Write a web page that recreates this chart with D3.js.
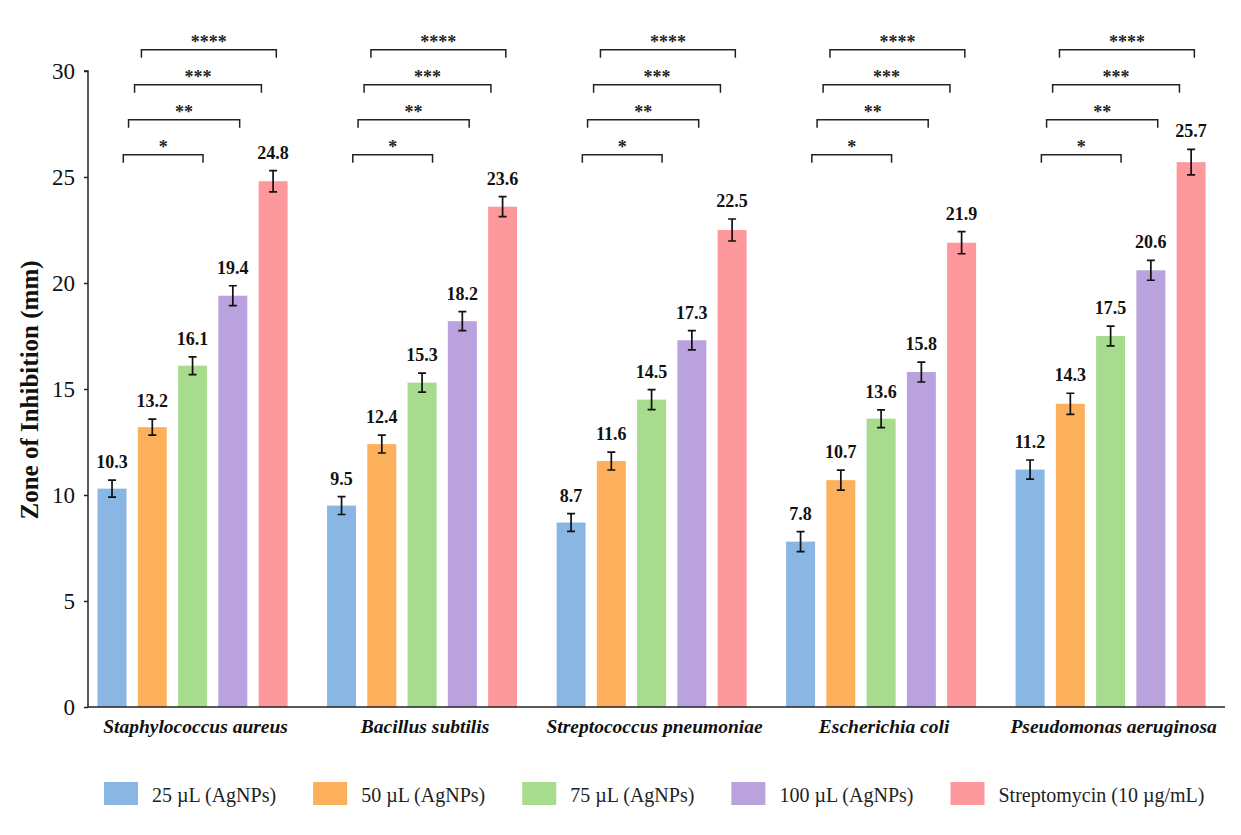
<!DOCTYPE html>
<html>
<head>
<meta charset="utf-8">
<script src="https://cdn.jsdelivr.net/npm/d3@7"></script>
<style>
  html, body { margin: 0; padding: 0; background: #fff; }
  svg { display: block; font-family: "Liberation Serif", "Times New Roman", serif; }
</style>
</head>
<body>
<svg id="chart" width="1241" height="835"></svg>
<script>
// Zone of inhibition (mm) per organism and treatment
const organisms = ["Staphylococcus aureus", "Bacillus subtilis", "Streptococcus pneumoniae", "Escherichia coli", "Pseudomonas aeruginosa"];
const treatments = ["25 µL (AgNPs)", "50 µL (AgNPs)", "75 µL (AgNPs)", "100 µL (AgNPs)", "Streptomycin (10 µg/mL)"];

const values25  = [10.3, 9.5, 8.7, 7.8, 11.2];
const values50  = [13.2, 12.4, 11.6, 10.7, 14.3];
const values75  = [16.1, 15.3, 14.5, 13.6, 17.5];
const values100 = [19.4, 18.2, 17.3, 15.8, 20.6];
const valuesStrep = [24.8, 23.6, 22.5, 21.9, 25.7];

// standard deviation shown as error bars
const err25  = [0.40, 0.42, 0.42, 0.47, 0.45];
const err50  = [0.38, 0.42, 0.42, 0.47, 0.50];
const err75  = [0.42, 0.45, 0.47, 0.42, 0.47];
const err100 = [0.47, 0.45, 0.45, 0.47, 0.47];
const errStrep = [0.50, 0.47, 0.52, 0.52, 0.60];

const yTicks = [0, 5, 10, 15, 20, 25, 30];
const significance = ["*", "**", "***", "****"];

const colors = ["#8ab6e3", "#fdb05c", "#a7db8e", "#baa2df", "#fd989d"];

const seriesValues = [values25, values50, values75, values100, valuesStrep];
const seriesErrors = [err25, err50, err75, err100, errStrep];

const svg = d3.select("#chart");
const plotLeft = 88, plotRight = 1225, plotTop = 71, plotBottom = 707;

const y = d3.scaleLinear().domain([0, 30]).range([plotBottom, plotTop]);
const x0 = d3.scaleBand().domain(organisms).range([plotLeft, plotRight])
  .paddingInner(0.172).paddingOuter(0.063).align(0.33);
const x1 = d3.scaleBand().domain(treatments).range([0, x0.bandwidth()])
  .paddingInner(0.28).paddingOuter(0);

// y axis
const yAxis = d3.axisLeft(y).tickValues(yTicks).tickSize(4).tickPadding(9);
const gy = svg.append("g").attr("transform", `translate(${plotLeft},0)`).call(yAxis);
gy.select(".domain").attr("stroke", "#222").attr("stroke-width", 1.5).attr("d", `M-4,${plotTop}H0V${plotBottom}`);
gy.selectAll(".tick line").attr("stroke", "#222").attr("stroke-width", 1.5);
gy.selectAll(".tick text").attr("font-family", "Liberation Serif").attr("font-size", 23).attr("fill", "#111");

// bars
const groups = svg.append("g").selectAll("g").data(organisms).join("g")
  .attr("transform", d => `translate(${x0(d)},0)`);

groups.each(function(org, gi) {
  const g = d3.select(this);
  treatments.forEach((t, si) => {
    const v = seriesValues[si][gi];
    const e = seriesErrors[si][gi];
    const cx = x1(t) + x1.bandwidth() / 2;
    g.append("rect")
      .attr("x", x1(t)).attr("width", x1.bandwidth())
      .attr("y", y(v)).attr("height", y(0) - y(v))
      .attr("fill", colors[si]);
    // error bar
    g.append("path")
      .attr("d", `M${cx},${y(v + e)}V${y(v - e)}M${cx - 4},${y(v + e)}H${cx + 4}M${cx - 4},${y(v - e)}H${cx + 4}`)
      .attr("stroke", "#111").attr("stroke-width", 1.7).attr("fill", "none");
    // value label
    g.append("text")
      .attr("x", cx).attr("y", y(v + e) - 12)
      .attr("text-anchor", "middle")
      .attr("font-size", 18).attr("font-weight", "bold").attr("fill", "#111")
      .text(v.toFixed(1));
  });

  // significance brackets (positions in bar-slot units, levels in mm)
  const slot = x1.step();
  const spans = [[0.64, 2.62], [0.77, 3.53], [0.92, 4.07], [1.09, 4.44]];
  const levels = [26.05, 27.7, 29.35, 31.0];
  significance.forEach((s, i) => {
    const xa = spans[i][0] * slot, xb = spans[i][1] * slot;
    const yl = y(levels[i]);
    g.append("path")
      .attr("d", `M${xa},${yl + 8}V${yl}H${xb}V${yl + 8}`)
      .attr("stroke", "#222").attr("stroke-width", 1.5).attr("fill", "none");
    g.append("text")
      .attr("x", (xa + xb) / 2).attr("y", yl - 2)
      .attr("text-anchor", "middle")
      .attr("font-size", 18).attr("font-weight", "bold").attr("fill", "#222")
      .text(s);
  });
});

// x axis baseline
svg.append("line")
  .attr("x1", plotLeft).attr("x2", plotRight).attr("y1", plotBottom).attr("y2", plotBottom)
  .attr("stroke", "#222").attr("stroke-width", 1.5);

// category labels
svg.append("g").selectAll("text").data(organisms).join("text")
  .attr("x", d => x0(d) + x0.bandwidth() / 2 + 3)
  .attr("y", 733)
  .attr("text-anchor", "middle")
  .attr("font-size", 19.5).attr("font-weight", "bold").attr("font-style", "italic").attr("fill", "#111")
  .text(d => d);

// y axis title
svg.append("text")
  .attr("transform", "translate(38,390) rotate(-90)")
  .attr("text-anchor", "middle")
  .attr("font-size", 25).attr("font-weight", "bold").attr("fill", "#111")
  .text("Zone of Inhibition (mm)");

// legend
const legend = svg.append("g").attr("transform", "translate(104,0)");
let lx = 0;
treatments.forEach((t, i) => {
  legend.append("rect")
    .attr("x", lx).attr("y", 782).attr("width", 34).attr("height", 23)
    .attr("fill", colors[i]);
  const txt = legend.append("text")
    .attr("x", lx + 48).attr("y", 802)
    .attr("font-size", 20).attr("fill", "#222")
    .text(t);
  lx += 48 + txt.node().getComputedTextLength() + 37;
});
</script>
</body>
</html>
